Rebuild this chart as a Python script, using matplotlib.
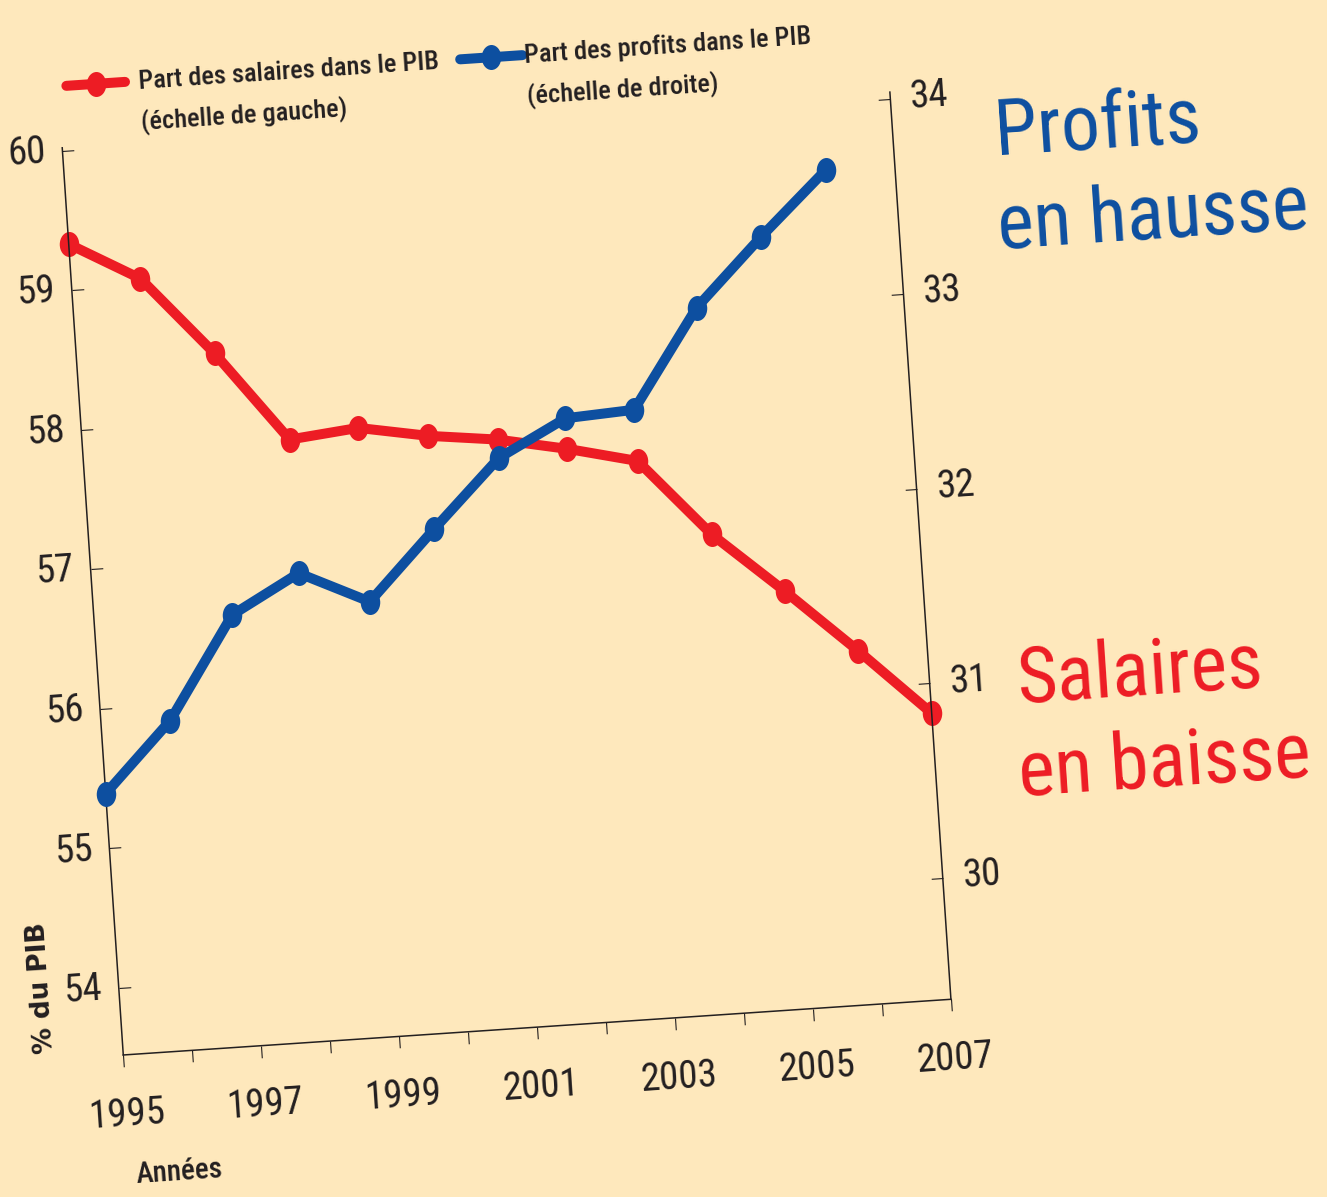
import matplotlib
matplotlib.use("Agg")
import matplotlib.pyplot as plt
from matplotlib import font_manager
from matplotlib.path import Path
from matplotlib.transforms import Affine2D
import mpl_toolkits.axisartist.floating_axes as floating_axes
from mpl_toolkits.axisartist.grid_finder import FixedLocator, DictFormatter

# --- data ---
annees_salaires = list(range(1995, 2008))
salaires = [59.33, 59.05, 58.48, 57.83, 57.88, 57.79, 57.73, 57.63, 57.51, 56.95, 56.51, 56.05, 55.57]
annees_profits = list(range(1995, 2007))
profits = [30.72, 31.07, 31.59, 31.78, 31.61, 31.96, 32.30, 32.48, 32.50, 33.00, 33.34, 33.66]

annees_ticks = list(range(1995, 2008))
annees_labels = {a: str(a) for a in range(1995, 2008, 2)}
ticks_gauche = [54, 55, 56, 57, 58, 59, 60]
ticks_droite = [30, 31, 32, 33, 34]

BG = "#fee8bc"
ROUGE = "#ed1c24"
BLEU = "#0d4fa0"
NOIR = "#231f20"

noms = {f.name for f in font_manager.fontManager.ttflist}
COND = "DejaVu Sans"
for nom in ["Liberation Sans Narrow", "Roboto Condensed", "Open Sans Condensed"]:
    if nom in noms:
        COND = nom
        break

ANGLE = 3.85
SX = 832 / 12
Y0_G, SY_G = 53.52, 140.3
Y0_D, SY_D = 29.378, 195.8
tr_g = Affine2D().translate(-1995, -Y0_G).scale(SX, SY_G).rotate_deg(ANGLE)
tr_d = Affine2D().translate(-1995, -Y0_D).scale(SX, SY_D).rotate_deg(ANGLE)

fig = plt.figure(figsize=(13.27, 11.97), dpi=100)
fig.patch.set_facecolor(BG)
rect = [0.0393, 0.1106, 0.6849, 0.8205]


def make_axes(tr, ylo, yhi, yticks):
    gh = floating_axes.GridHelperCurveLinear(
        tr, extremes=(1995, 2007, ylo, yhi),
        grid_locator1=FixedLocator(annees_ticks),
        tick_formatter1=DictFormatter(annees_labels),
        grid_locator2=FixedLocator(yticks),
        tick_formatter2=DictFormatter({v: str(v) for v in yticks}))
    ax = fig.add_axes(rect, axes_class=floating_axes.FloatingAxes, grid_helper=gh)
    ax.patch.set_visible(False)
    for k in ["left", "right", "bottom", "top"]:
        ax.axis[k].line.set_color(NOIR)
        ax.axis[k].line.set_linewidth(1.1)
        ax.axis[k].major_ticks.set_color(NOIR)
        ax.axis[k].major_ticks.set_ticksize(8.5)
        ax.axis[k].major_ticks.set_linewidth(1.1)
        ax.axis[k].major_ticklabels.set_fontsize(28)
        ax.axis[k].major_ticklabels.set_fontfamily(COND)
        ax.axis[k].major_ticklabels.set_color(NOIR)
        ax.axis[k].label.set_visible(False)
    return ax


yhaut_g = 60.02
yhaut_d = Y0_D + (yhaut_g - Y0_G) * SY_G / SY_D

ax1 = make_axes(tr_g, Y0_G, yhaut_g, ticks_gauche)
ax1.axis["top"].set_visible(False)
ax1.axis["right"].set_visible(False)
ax1.axis["bottom"].major_ticks.set_tick_out(True)
ax1.axis["bottom"].major_ticklabels.set_pad(22)
ax1.axis["left"].major_ticklabels.set_pad(12)
aux1 = ax1.get_aux_axes(tr_g)

ax2 = make_axes(tr_d, Y0_D, yhaut_d, ticks_droite)
for k in ["top", "left", "bottom"]:
    ax2.axis[k].set_visible(False)
ax2.axis["right"].major_ticklabels.set_visible(True)
ax2.axis["right"].major_ticklabels.set_pad(14)
aux2 = ax2.get_aux_axes(tr_d)

ovale = Path.unit_circle().transformed(Affine2D().scale(0.78, 1.0))
style = dict(lw=7.2, marker=ovale, markersize=18, markeredgewidth=0,
             solid_capstyle="round", clip_on=False)

aux1.plot(annees_salaires, salaires, color=ROUGE, **style)
aux2.plot(annees_profits, profits, color=BLEU, **style)

# legend, drawn in the tilted frame (left-scale coordinates)
for couleur, (xa, xb, yl), (xt, y1, y2), t1, t2 in [
    (ROUGE, (1995.12, 1995.97, 60.46), (1996.17, 60.40, 60.11),
     "Part des salaires dans le PIB", "(échelle de gauche)"),
    (BLEU, (2000.83, 2001.73, 60.46), (2001.76, 60.40, 60.11),
     "Part des profits dans le PIB", "(échelle de droite)"),
]:
    aux1.plot([xa, xb], [yl, yl], color=couleur, lw=7.2, solid_capstyle="round", clip_on=False)
    aux1.plot([(xa + xb) / 2], [yl], color=couleur, marker=ovale, markersize=18,
              markeredgewidth=0, clip_on=False)
    for y, t in [(y1, t1), (y2, t2)]:
        aux1.text(xt, y, t, fontsize=19, family=COND, weight="medium", color=NOIR,
                  ha="left", va="baseline", rotation=ANGLE, rotation_mode="anchor")

aux1.text(1995.06, 52.60, "Années", fontsize=21, family=COND, weight="medium", color=NOIR,
          ha="left", va="baseline", rotation=ANGLE, rotation_mode="anchor")
aux1.text(1993.885, 54.035, "% du PIB", fontsize=19, family="DejaVu Sans",
          weight="bold", color=NOIR, ha="center", va="center",
          rotation=90 + ANGLE, rotation_mode="anchor")

for x, y, t, c in [(2008.47, 59.52, "Profits", BLEU), (2008.42, 58.85, "en hausse", BLEU),
                   (2008.26, 55.60, "Salaires", ROUGE), (2008.20, 54.94, "en baisse", ROUGE)]:
    aux1.text(x, y, t, fontsize=56, family=COND, color=c, ha="left",
              va="baseline", rotation=ANGLE, rotation_mode="anchor")

fig.savefig("out.png", dpi=100, facecolor=BG)
